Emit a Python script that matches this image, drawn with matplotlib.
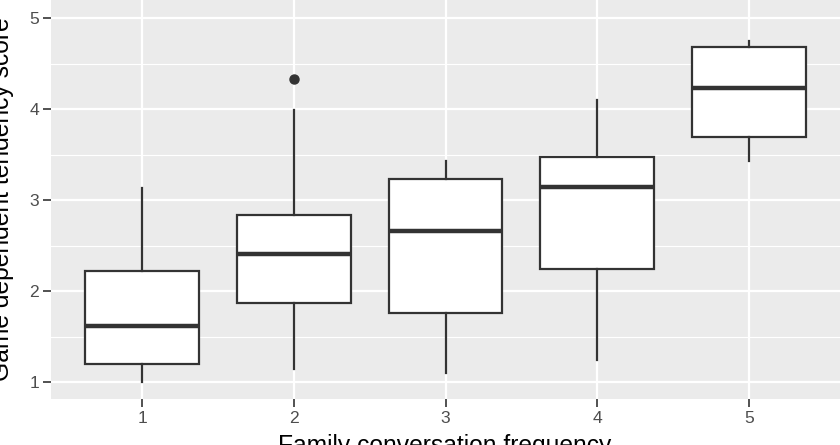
import matplotlib
matplotlib.use("Agg")
import matplotlib.pyplot as plt
from matplotlib.ticker import MultipleLocator

plt.rcParams['font.family'] = ['Liberation Sans', 'DejaVu Sans']

# Data
categories = [1, 2, 3, 4, 5]
whisker_low = [1.00, 1.14, 1.10, 1.24, 3.43]
q1 = [1.20, 1.87, 1.76, 2.24, 3.69]
median = [1.62, 2.41, 2.66, 3.14, 4.23]
q3 = [2.22, 2.84, 3.23, 3.47, 4.68]
whisker_high = [3.13, 3.99, 3.43, 4.10, 4.75]
outliers = [[], [4.33], [], [], []]
x_tick_labels = ["1", "2", "3", "4", "5"]
y_ticks = [1, 2, 3, 4, 5]
x_title = "Family conversation frequency"
y_title = "Game dependent tendency score"

W, H = 840, 445
fig = plt.figure(figsize=(W / 100, H / 100), dpi=100)
left, right, top, bottom = 51, 840, 0, 399
ax = fig.add_axes([left / W, 1 - bottom / H, (right - left) / W, (bottom - top) / H])
ax.set_facecolor('#EBEBEB')

stats = []
for i in range(len(categories)):
    stats.append(dict(med=median[i], q1=q1[i], q3=q3[i],
                      whislo=whisker_low[i], whishi=whisker_high[i],
                      fliers=outliers[i]))

dark = '#333333'
ax.bxp(stats, positions=categories, widths=0.75, patch_artist=True,
       showcaps=False,
       boxprops=dict(facecolor='white', edgecolor=dark, linewidth=1.6),
       medianprops=dict(color=dark, linewidth=3.2, solid_capstyle='butt'),
       whiskerprops=dict(color=dark, linewidth=1.6),
       flierprops=dict(marker='o', markerfacecolor=dark, markeredgecolor=dark,
                       markersize=6.5),
       zorder=3)

ax.set_xlim(0.4, 5.6)
ax.set_ylim(0.813, 5.201)
ax.set_xticks(categories)
ax.set_xticklabels(x_tick_labels)
ax.set_yticks(y_ticks)
ax.yaxis.set_minor_locator(MultipleLocator(0.5))

ax.grid(which='major', color='white', linewidth=1.6, zorder=0)
ax.grid(which='minor', axis='y', color='white', linewidth=0.8, zorder=0)
ax.set_axisbelow(True)
for s in ax.spines.values():
    s.set_visible(False)

ax.tick_params(which='major', length=5.5, width=1.2, color='#333333',
               labelcolor='#4D4D4D', labelsize=12.6, pad=3)
ax.tick_params(which='minor', length=0)

fig.text(445 / W, 1 - 434 / H, x_title, ha='center', va='top',
         fontsize=17.7, color='black')
fig.text(14 / W, 1 - 199 / H, y_title, ha='right', va='center',
         rotation=90, fontsize=17.7, color='black')

fig.savefig('out.png', dpi=100)
